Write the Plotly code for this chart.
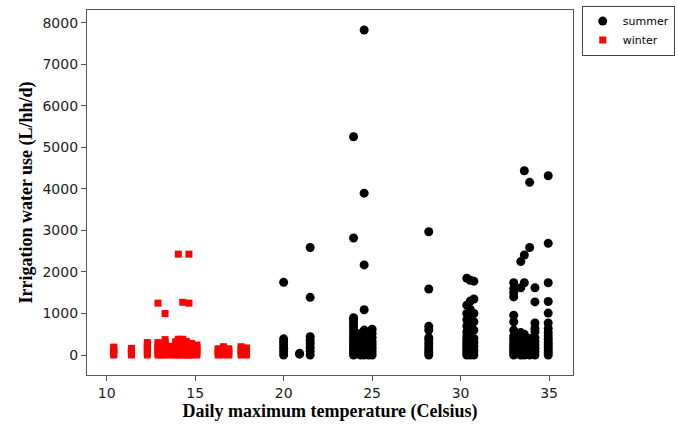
import plotly.graph_objects as go

# Winter observations: (temperature, irrigation use)
winter_temp = (
    [10.4]*6 + [11.4]*5 + [12.3]*7 + [12.9]*7 + [13.1]*4 + [13.3]*8 + [13.6]*4 +
    [13.9]*5 + [14.05]*8 + [14.3]*7 + [14.5]*6 + [14.65]*6 + [14.8]*5 + [15.1]*5 +
    [16.3]*4 + [16.6]*4 + [16.9]*4 + [17.6]*5 + [17.9]*4
)
winter_use = (
    [0, 40, 80, 120, 160, 190] +
    [0, 40, 80, 120, 160] +
    [0, 50, 100, 150, 200, 250, 300] +
    [0, 60, 120, 180, 240, 300, 1250] +
    [0, 80, 160, 240] +
    [0, 60, 120, 180, 240, 300, 370, 1000] +
    [0, 70, 140, 210] +
    [0, 80, 160, 240, 320] +
    [0, 60, 120, 180, 240, 300, 380, 2430] +
    [0, 70, 140, 210, 280, 380, 1270] +
    [0, 60, 120, 180, 250, 330] +
    [0, 80, 160, 240, 2430, 1250] +
    [0, 60, 130, 200, 280] +
    [0, 60, 120, 180, 240] +
    [0, 50, 100, 150] +
    [0, 70, 140, 200] +
    [0, 50, 100, 150] +
    [0, 50, 100, 160, 200] +
    [0, 60, 120, 170]
)

summer_cols = {
    20.0: [0, 80, 160, 240, 320, 390, 1750],
    20.9: [20, 40],
    21.5: [0, 90, 180, 270, 350, 440, 1390, 2590],
    23.95: [0, 60, 120, 180, 240, 300, 380, 460, 540, 620, 700, 780, 850, 900, 2820, 5260],
    24.35: [0, 80, 160, 240, 320, 420, 520],
    24.55: [0, 70, 140, 210, 280, 350, 430, 520, 600, 1090, 2170, 3900, 7830],
    24.8: [0, 60, 120, 200, 280, 360, 450, 560],
    25.0: [0, 80, 160, 240, 320, 420, 520, 620],
    28.2: [0, 60, 120, 200, 280, 360, 420, 600, 690, 1590, 2970],
    30.35: [0, 60, 120, 180, 240, 300, 380, 460, 560, 700, 850, 1000, 1200, 1850],
    30.55: [0, 80, 160, 240, 320, 420, 520, 640, 760, 900, 1100, 1300, 1800],
    30.75: [0, 100, 200, 300, 400, 600, 800, 1000, 1350, 1780],
    33.0: [0, 60, 120, 180, 240, 300, 380, 460, 600, 800, 960, 1400, 1500, 1600, 1740],
    33.4: [0, 60, 120, 180, 240, 300, 380, 460, 540, 1620, 2250],
    33.6: [0, 80, 160, 240, 320, 400, 500, 1740, 2410, 4440],
    33.9: [0, 60, 120, 180, 240, 300, 400, 2590, 4160],
    34.2: [0, 80, 160, 240, 320, 420, 560, 640, 770, 1280, 1620],
    34.95: [0, 60, 120, 180, 240, 300, 380, 460, 540, 640, 770, 1010, 1290, 1740, 2690, 4320],
}
summer_temp = [t for t, vals in summer_cols.items() for _ in vals]
summer_use = [v for vals in summer_cols.values() for v in vals]

x_ticks = [10, 15, 20, 25, 30, 35]
y_ticks = [0, 1000, 2000, 3000, 4000, 5000, 6000, 7000, 8000]

fig = go.Figure()
fig.add_trace(go.Scatter(
    x=summer_temp, y=summer_use, mode="markers", name="summer",
    marker=dict(symbol="circle", size=9, color="black", line=dict(width=0)),
))
fig.add_trace(go.Scatter(
    x=winter_temp, y=winter_use, mode="markers", name="winter",
    marker=dict(symbol="square", size=7, color="#ff0000", line=dict(width=0)),
))

axis_common = dict(
    showline=True, linecolor="#555555", linewidth=1.3, mirror=True,
    ticks="outside", ticklen=5, tickcolor="#555555", tickwidth=1,
    showgrid=False, zeroline=False,
    tickfont=dict(family="DejaVu Sans", size=14, color="#222222"),
)

fig.update_layout(
    width=678, height=425,
    margin=dict(l=87, r=105, t=10, b=50, autoexpand=False),
    paper_bgcolor="white", plot_bgcolor="white",
    showlegend=True,
    legend=dict(
        x=1.018, y=1.012, xanchor="left", yanchor="top",
        bordercolor="#444444", borderwidth=1,
        font=dict(family="DejaVu Sans", size=11, color="black"),
        itemsizing="trace", tracegroupgap=0, itemwidth=30,
    ),
    xaxis=dict(
        range=[8.89, 36.35], tickvals=x_ticks,
        title=dict(text="Daily maximum temperature (Celsius)", standoff=2,
                   font=dict(family="Liberation Serif", size=18, color="black",
                             weight="bold")),
        **axis_common,
    ),
    yaxis=dict(
        range=[-482, 8313], tickvals=y_ticks,
        title=dict(text="Irrigation water use (L/hh/d)", standoff=5,
                   font=dict(family="Liberation Serif", size=18, color="black",
                             weight="bold")),
        **axis_common,
    ),
)

fig.write_html(
    "out.html",
    config={"displayModeBar": False},
    post_script="document.body.style.margin='0';document.body.style.padding='0';",
)
